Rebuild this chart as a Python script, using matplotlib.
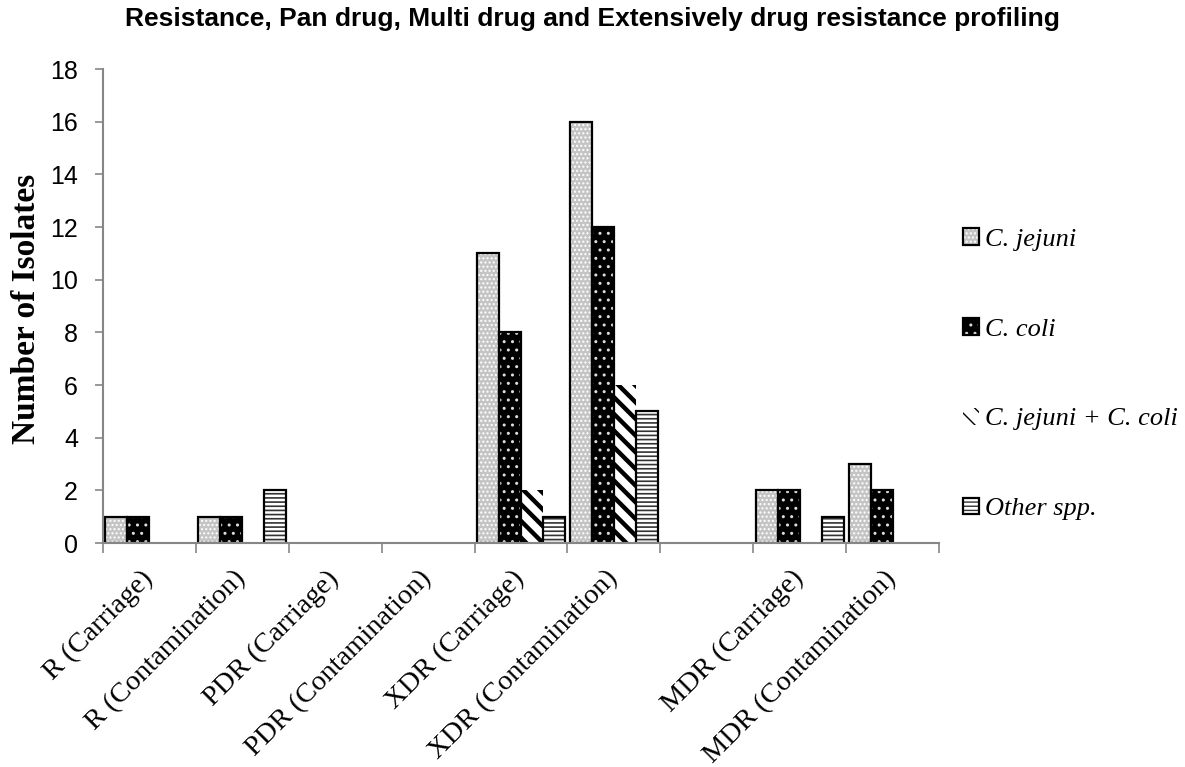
import matplotlib
matplotlib.use("Agg")
import matplotlib.pyplot as plt
import matplotlib.transforms as mtransforms
from matplotlib.legend_handler import HandlerTuple
import numpy as np

# data
categories = ["R (Carriage)", "R (Contamination)", "PDR (Carriage)",
              "PDR (Contamination)", "XDR (Carriage)", "XDR (Contamination)",
              "", "MDR (Carriage)", "MDR (Contamination)"]
series_names = ["C. jejuni", "C. coli", "C. jejuni + C. coli", "Other spp."]
jejuni = [1, 1, 0, 0, 11, 16, 0, 2, 3]
coli = [1, 1, 0, 0, 8, 12, 0, 2, 2]
jejuni_coli = [0, 0, 0, 0, 2, 6, 0, 0, 0]
other = [0, 2, 0, 0, 1, 5, 0, 1, 0]
values = [jejuni, coli, jejuni_coli, other]

# fill, hatch colour, hatch, outline
styles = [
    ("#c4c4c4", "white", "....", "black"),
    ("black", "#dddddd", "..", "black"),
    ("white", "black", "\\\\", "none"),
    ("white", "#333333", "----", "black"),
]
hatch_lw = [1.0, 1.0, 3.2, 1.2]

fig = plt.figure(figsize=(11.85, 7.67), dpi=100)
ax = fig.add_axes([0.0869, 0.292, 0.7055, 0.618])

n = len(categories)
x = np.arange(n) + 0.5
w = 0.237
handles = []
for j, vals in enumerate(values):
    face, hcol, hatch, edge = styles[j]
    vals = np.array(vals)
    pos = x + (j - 1.5) * w
    keep = vals > 0
    with plt.rc_context({"hatch.linewidth": hatch_lw[j]}):
        hb = ax.bar(pos[keep], vals[keep], w, color=face, edgecolor=hcol,
                    hatch=hatch, linewidth=0, zorder=2)
        for p in hb:
            if hasattr(p, "set_hatch_linewidth"):
                p.set_hatch_linewidth(hatch_lw[j])
    ob = ax.bar(pos[keep], vals[keep], w, fill=False, edgecolor=edge,
                linewidth=1.6, zorder=3)
    handles.append((hb[0], ob[0]))

ax.set_xlim(0, n)
ax.set_ylim(0, 18)
ax.set_yticks(range(0, 19, 2))

grey = "#868686"
for s in ["top", "right"]:
    ax.spines[s].set_visible(False)
for s in ["left", "bottom"]:
    ax.spines[s].set_color(grey)
    ax.spines[s].set_linewidth(1.5)
    ax.spines[s].set_zorder(4)

ax.set_xticks(np.arange(n + 1))
ax.set_xticklabels([])
ax.tick_params(axis="x", which="major", length=7, width=1.2, color=grey,
               direction="out")
ax.set_xticks(x, categories, minor=True)
ax.tick_params(axis="x", which="minor", length=0, pad=16.5)
shift = mtransforms.ScaledTranslation(-9 / 100, 0, fig.dpi_scale_trans)
for lab in ax.get_xticklabels(minor=True):
    lab.set_rotation(45)
    lab.set_ha("right")
    lab.set_va("top")
    lab.set_rotation_mode("anchor")
    lab.set_fontfamily("Liberation Serif")
    lab.set_fontsize(20.5)
    lab.set_transform(lab.get_transform() + shift)

ax.tick_params(axis="y", length=6, width=1.2, color=grey, pad=12)
for lab in ax.get_yticklabels():
    lab.set_fontfamily("Liberation Sans")
    lab.set_fontsize(18)

fig.text(0.5, 0.975, "Resistance, Pan drug, Multi drug and Extensively drug resistance profiling",
         ha="center", va="center", fontsize=19, fontweight="bold",
         family="Liberation Sans")
fig.text(27 / 1185, 0.597, "Number of Isolates", rotation=90, ha="center",
         va="center", fontsize=24, fontweight="bold", family="Liberation Serif")

leg = fig.legend(handles, series_names, handler_map={tuple: HandlerTuple(ndivide=1)},
                 loc="center left", bbox_to_anchor=(963 / 1185, 0.512),
                 frameon=False, borderpad=0, borderaxespad=0,
                 handlelength=0.6, handleheight=0.6, handletextpad=0.25,
                 labelspacing=2.54,
                 prop={"family": "Liberation Serif", "style": "italic", "size": 19})

fig.savefig("out.png", dpi=100)
